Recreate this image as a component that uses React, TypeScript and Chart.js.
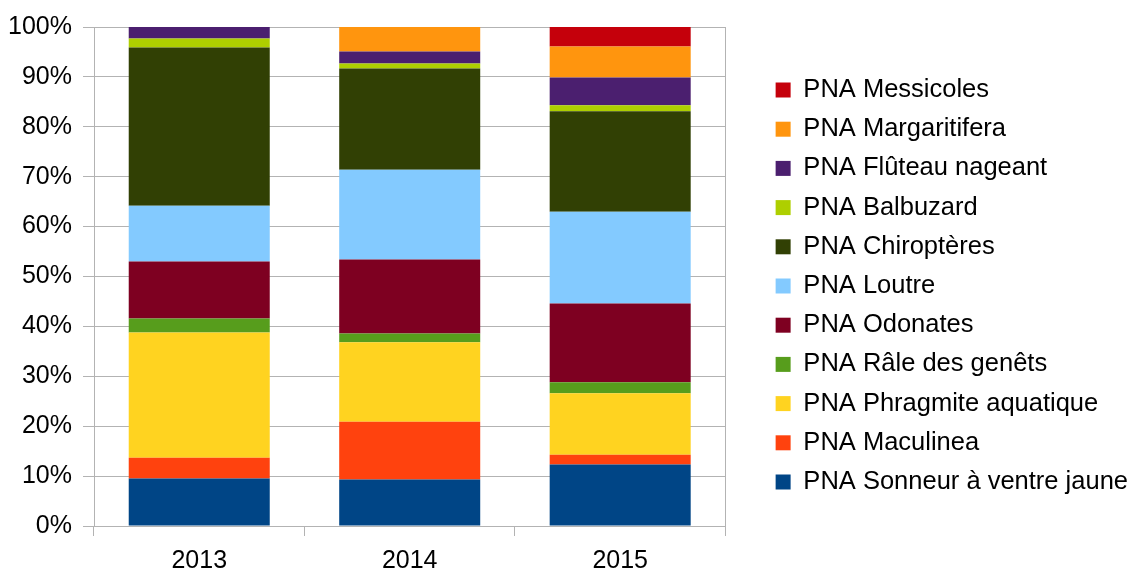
import React, { useEffect, useRef } from "react";
import { Chart, registerables } from "chart.js";

Chart.register(...registerables);

const categories = ["2013", "2014", "2015"];

const seriesNames = [
  "PNA Sonneur à ventre jaune",
  "PNA Maculinea",
  "PNA Phragmite aquatique",
  "PNA Râle des genêts",
  "PNA Odonates",
  "PNA Loutre",
  "PNA Chiroptères",
  "PNA Balbuzard",
  "PNA Flûteau nageant",
  "PNA Margaritifera",
  "PNA Messicoles",
];

const sonneur = [9.5, 9.3, 12.3];
const maculinea = [4.2, 11.6, 2.0];
const phragmite = [25.1, 15.9, 12.3];
const rale = [2.8, 1.8, 2.2];
const odonates = [11.4, 14.8, 15.8];
const loutre = [11.2, 18.0, 18.4];
const chiropteres = [31.7, 20.3, 20.1];
const balbuzard = [1.8, 1.0, 1.2];
const fluteau = [2.3, 2.4, 5.6];
const margaritifera = [0, 4.9, 6.2];
const messicoles = [0, 0, 3.9];

const seriesValues = [
  sonneur,
  maculinea,
  phragmite,
  rale,
  odonates,
  loutre,
  chiropteres,
  balbuzard,
  fluteau,
  margaritifera,
  messicoles,
];

const seriesColors = [
  "#004586",
  "#ff420e",
  "#ffd320",
  "#579d1c",
  "#7e0021",
  "#83caff",
  "#314004",
  "#aecf00",
  "#4b1f6f",
  "#ff950e",
  "#c5000b",
];

const yTicks = [0, 10, 20, 30, 40, 50, 60, 70, 80, 90, 100];

const FONT = "'Liberation Sans', Arial, sans-serif";
const GRID = "#b3b3b3";

const legendShift = {
  id: "legendShift",
  afterLayout(chart: any) {
    const lg = chart.legend;
    if (!lg) return;
    const dx = 7;
    lg.left += dx;
    lg.right += dx;
  },
};

export default function App() {
  const canvasRef = useRef<HTMLCanvasElement | null>(null);

  useEffect(() => {
    if (!canvasRef.current) return;
    const chart = new Chart(canvasRef.current, {
      type: "bar",
      data: {
        labels: categories,
        datasets: seriesNames.map((name, i) => ({
          label: name,
          data: seriesValues[i],
          backgroundColor: seriesColors[i],
          borderWidth: 0,
          categoryPercentage: 0.67,
          barPercentage: 1,
        })),
      },
      plugins: [legendShift],
      options: {
        animation: false,
        responsive: true,
        maintainAspectRatio: false,
        layout: { padding: 0 },
        font: { family: FONT },
        plugins: {
          tooltip: { enabled: false },
          legend: {
            position: "right",
            reverse: true,
            maxWidth: 420,
            labels: {
              boxWidth: 15,
              boxHeight: 15,
              padding: 13.7,
              color: "#000",
              font: { family: FONT, size: 25.5 },
            },
          },
        },
        scales: {
          x: {
            stacked: true,
            grid: {
              drawOnChartArea: false,
              drawTicks: true,
              tickLength: 10,
              color: GRID,
              offset: true,
            },
            border: { color: GRID },
            ticks: {
              color: "#000",
              padding: 10,
              font: { family: FONT, size: 25 },
            },
            afterFit: (s: any) => {
              s.height = 46;
            },
          },
          y: {
            stacked: true,
            min: 0,
            max: 100,
            afterBuildTicks: (s: any) => {
              s.ticks = yTicks.map((v) => ({ value: v }));
            },
            grid: { color: GRID, tickLength: 11 },
            border: { color: GRID },
            ticks: {
              color: "#000",
              padding: 11,
              font: { family: FONT, size: 25 },
              callback: (v: any) => v + "%",
            },
            afterFit: (s: any) => {
              s.width = 94;
              s.paddingTop = 27;
            },
          },
          y2: {
            position: "right",
            min: 0,
            max: 100,
            grid: { display: false },
            ticks: { display: false },
            border: { display: true, color: GRID },
            afterFit: (s: any) => {
              s.width = 29.5;
            },
          },
        },
      },
    });
    return () => chart.destroy();
  }, []);

  return (
    <div
      style={{
        position: "absolute",
        left: 0,
        top: 0,
        width: 1131,
        height: 572,
        background: "#fff",
      }}
    >
      <canvas ref={canvasRef} />
    </div>
  );
}
